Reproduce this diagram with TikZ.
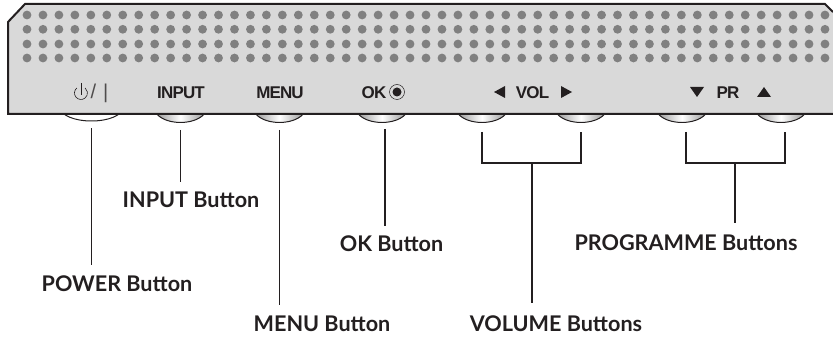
\documentclass[tikz,border=0pt]{standalone}
\usepackage{fontspec}
\usepackage{xcolor}
\usetikzlibrary{shapes.geometric, positioning, calc}
\setmainfont{Lato}
\newfontfamily\panelfont[LetterSpace=-5]{Liberation Sans}
\definecolor{inkblack}{HTML}{231F20}
\definecolor{panelgray}{HTML}{D9D9D9}
\definecolor{dotgray}{HTML}{808080}

\begin{document}
\begin{tikzpicture}[
x=1pt, y=-1pt,
    button/.style={ellipse, draw=inkblack, line width=1pt, minimum width=52pt, minimum height=29pt, inner sep=0pt, left color=gray!85, right color=gray!85, middle color=white},
    powerbutton/.style={button, minimum width=62pt, minimum height=26pt, left color=white, right color=white},
    paneltext/.style={font=\panelfont\bfseries\fontsize{17}{17}\selectfont, text=inkblack, inner sep=0pt, anchor=base},
    btnlabel/.style={font=\bfseries\fontsize{21.6}{21.6}\selectfont, text=inkblack, inner sep=0pt, anchor=base},
    line/.style={draw=inkblack, line width=1.2pt},
    lead/.style={line, shorten <=7pt, shorten >=10pt},
    glyph/.style={fill=inkblack, draw=none}
]
    \useasboundingbox (0,0) rectangle (833,339);

    % Buttons
    \node[powerbutton] (btnpower) at (91.5,108) {};
    \node[button] (btninput) at (180.5,108) {};
    \node[button] (btnmenu) at (279.5,108) {};
    \node[button] (btnok) at (382,108) {};
    \node[button] (btnvolleft) at (482,108) {};
    \node[button] (btnvolright) at (581,108) {};
    \node[button] (btnprdown) at (682,108) {};
    \node[button] (btnprup) at (781,108) {};

    % Panel
    \draw[draw=inkblack, line width=2pt, fill=panelgray] (833,114) -- (8,114) -- (8,22) -- (25,4) -- (825,4) -- (833,12);
    \foreach \row in {15,29.3,44,58}
        \foreach \col in {0,...,50}
            \fill[dotgray] (27+15.96*\col,\row) circle (4.4);

    % Panel texts
    \draw[inkblack, line width=0.6pt] (76.8,88) arc (230:-50:6.5);
    \draw[inkblack, line width=0.6pt] (81,83) -- (81,95);
    \node[paneltext, font=\panelfont\fontsize{20}{20}\selectfont, text=inkblack!80] (txtpower) at (99.5,98.5) {/\hspace{7pt}|};
    \node[paneltext] (txtinput) at (181,99) {INPUT};
    \node[paneltext] (txtmenu) at (280,99) {MENU};
    \node[paneltext] (txtok) at (374,99) {OK};
    \node[circle, draw=inkblack, line width=0.5pt, minimum size=15pt, inner sep=0pt] (txtokring) at (397,92) {};
    \node[circle, glyph, minimum size=9pt, inner sep=0pt] (txtokdot) at (397,92) {};
    \node[paneltext] (txtvol) at (532.5,99) {VOL};
    \node[paneltext] (txtpr) at (728,99) {PR};
    \fill[glyph] (505,86) -- (505,98) -- (494,92) -- cycle;
    \fill[glyph] (561,86) -- (561,98) -- (572,92) -- cycle;
    \fill[glyph] (690,87) -- (704,87) -- (697,97) -- cycle;
    \fill[glyph] (757,97) -- (771,97) -- (764,87) -- cycle;

    % Labels
    \node[btnlabel] (lblpower) at (117,291) {POWER Button};
    \node[btnlabel] (lblinput) at (191,208) {INPUT Button};
    \node[btnlabel] (lblmenu) at (322,331) {MENU Button};
    \node[btnlabel] (lblok) at (391.5,252) {OK Button};
    \node[btnlabel] (lblvol) at (556,331) {VOLUME Buttons};
    \node[btnlabel] (lblpr) at (686,251) {PROGRAMME Buttons};

    % Connect Labels and Buttons
    \coordinate (oktop) at (385,122);
    \draw[lead] (btnpower.south) -- (btnpower.south |- lblpower.north);
    \draw[lead] (btninput.south) -- (btninput.south |- lblinput.north);
    \draw[lead] (btnmenu.south) -- (btnmenu.south |- lblmenu.north);
    \draw[lead] (oktop) -- (oktop |- lblok.north);

    % Brackets
    \coordinate (volmid) at (532,163);
    \coordinate (prmid) at (735,163);
    \coordinate (voltop) at (482,132);
    \coordinate (prtop) at (686,132);
    \draw[line] (voltop) -- (voltop |- volmid) -- (btnvolright.south |- volmid) -- (btnvolright.south |- voltop);
    \draw[line] (prtop) -- (prtop |- prmid) -- (785,163) -- (785,132);
    \draw[line, shorten >=12pt] (volmid) -- (volmid |- lblvol.north);
    \draw[line, shorten >=12pt] (prmid) -- (prmid |- lblpr.north);

\end{tikzpicture}
\end{document}
